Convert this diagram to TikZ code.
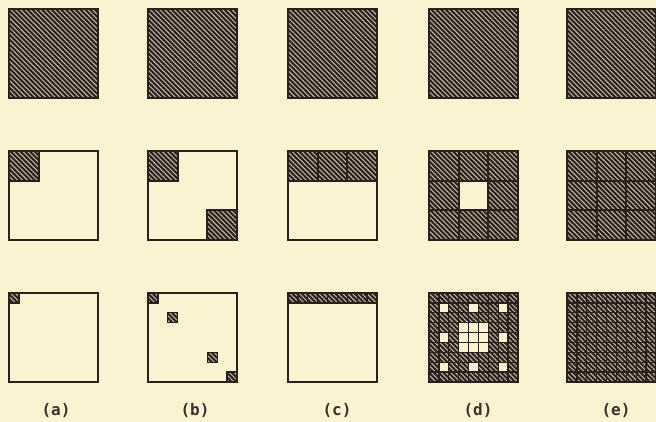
\documentclass[tikz,border=0pt]{standalone}
\usepackage{fontspec}
\newfontfamily\labfont{DejaVu Sans Mono}
\usetikzlibrary{patterns.meta}
\definecolor{bg}{HTML}{FAF3D2}
\definecolor{dk}{HTML}{2A201C}
\definecolor{lt}{HTML}{BFB39E}
\tikzset{
  tex/.style={fill=dk, postaction={pattern={Lines[angle=-45,distance=3.4pt,line width=1.1pt]}, pattern color=lt}},
  grid/.style={draw=dk, line width=1.4pt},
  frame/.style={draw=dk, line width=1.9pt},
  lab/.style={font=\labfont\bfseries\fontsize{16}{16}\selectfont, text=dk!92!white, inner sep=0pt}
}
\newcommand\tcell[4][1.4pt]{\fill[tex] (#2,#3) rectangle ++(#4,#4); \draw[grid,line width=#1] (#2,#3) rectangle ++(#4,#4);}
\newcommand\hcell[4][1.4pt]{\draw[grid,line width=#1] (#2,#3) rectangle ++(#4,#4);}
\begin{document}
\begin{tikzpicture}[x=1pt,y=-1pt]
\fill[bg] (0,0) rectangle (656,422);
\useasboundingbox (0,0) rectangle (656,422);
\def\S{89}
\def\T{29.6667}
\def\N{9.8889}
% row 1
\foreach \X in {9,148,288,429,567}{
  \fill[tex] (\X,9) rectangle ++(\S,\S);
  \draw[frame] (\X,9) rectangle ++(\S,\S);
}
% row 2
\tcell[2pt]{9}{151}{\T}
\draw[frame] (9,151) rectangle ++(\S,\S);
\tcell[2pt]{148}{151}{\T}
\tcell[2pt]{148+2*\T}{151+2*\T}{\T}
\draw[frame] (148,151) rectangle ++(\S,\S);
\foreach \i in {0,1,2}{\tcell[2pt]{288+\i*\T}{151}{\T}}
\draw[frame] (288,151) rectangle ++(\S,\S);
\foreach \i in {0,1,2}{\foreach \j in {0,1,2}{
  \pgfmathtruncatemacro\h{(\i==1)&&(\j==1)}
  \ifnum\h=0 \tcell[2pt]{429+\i*\T}{151+\j*\T}{\T}\else\hcell[2pt]{429+\i*\T}{151+\j*\T}{\T}\fi
}}
\draw[frame] (429,151) rectangle ++(\S,\S);
\foreach \i in {0,1,2}{\foreach \j in {0,1,2}{\tcell[2pt]{567+\i*\T}{151+\j*\T}{\T}}}
\draw[frame] (567,151) rectangle ++(\S,\S);
% row 3
\tcell{9}{293}{\N}
\draw[frame] (9,293) rectangle ++(\S,\S);
\foreach \k in {0,2,6,8}{\tcell{148+\k*\N}{293+\k*\N}{\N}}
\draw[frame] (148,293) rectangle ++(\S,\S);
\foreach \i in {0,...,8}{\tcell{288+\i*\N}{293}{\N}}
\draw[frame] (288,293) rectangle ++(\S,\S);
\foreach \i in {0,...,8}{\foreach \j in {0,...,8}{
  \pgfmathtruncatemacro\h{((mod(\i,3)==1)&&(mod(\j,3)==1))||((int(\i/3)==1)&&(int(\j/3)==1))}
  \ifnum\h=0 \tcell{429+\i*\N}{293+\j*\N}{\N}\else\hcell{429+\i*\N}{293+\j*\N}{\N}\fi
}}
\draw[frame] (429,293) rectangle ++(\S,\S);
\foreach \i in {0,...,8}{\foreach \j in {0,...,8}{\tcell{567+\i*\N}{293+\j*\N}{\N}}}
\draw[frame] (567,293) rectangle ++(\S,\S);
% labels
\node[lab] (la) at (56,410) {(a)};
\node[lab] (lb) at (195,410) {(b)};
\node[lab] (lc) at (337,410) {(c)};
\node[lab] (ld) at (478,410) {(d)};
\node[lab] (le) at (616,410) {(e)};
\end{tikzpicture}
\end{document}
